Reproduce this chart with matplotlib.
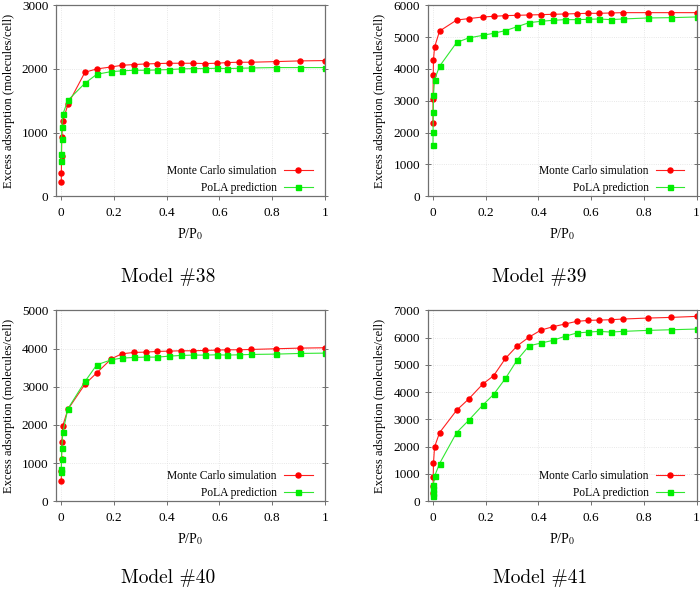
import matplotlib.pyplot as plt

# relative pressure points (same set for every model)
p_rel = [0.0001, 0.0004, 0.001, 0.002, 0.006, 0.025, 0.09, 0.135, 0.19, 0.23,
         0.275, 0.32, 0.365, 0.41, 0.455, 0.5, 0.545, 0.59, 0.63, 0.675,
         0.72, 0.815, 0.905, 1.0]

models = ['Model #38', 'Model #39', 'Model #40', 'Model #41']
y_max = [3000, 6000, 5000, 7000]
y_step = [1000, 1000, 1000, 1000]

mc_38 = [225, 366, 630, 932, 1178, 1441, 1948, 2000, 2031, 2057, 2068, 2078,
         2084, 2089, 2089, 2089, 2084, 2089, 2100, 2105, 2105, 2115, 2126, 2131]
pola_38 = [545, 660, 895, 1089, 1288, 1505, 1775, 1916, 1958, 1969, 1979, 1979,
           1984, 1990, 2000, 2005, 2005, 2010, 2005, 2010, 2015, 2021, 2021, 2021]

mc_39 = [2305, 3063, 3800, 4295, 4684, 5190, 5537, 5581, 5633, 5654, 5675, 5685,
         5696, 5706, 5717, 5727, 5738, 5748, 5748, 5759, 5769, 5769, 5769, 5769]
pola_39 = [1601, 2021, 2643, 3180, 3663, 4084, 4832, 4973, 5057, 5120, 5204, 5329,
           5455, 5497, 5528, 5549, 5549, 5560, 5570, 5549, 5570, 5602, 5612, 5633]

mc_40 = [524, 793, 1107, 1545, 1982, 2404, 3068, 3365, 3732, 3863, 3898, 3907,
         3925, 3933, 3942, 3942, 3951, 3960, 3968, 3968, 3977, 3995, 4012, 4021]
pola_40 = [759, 838, 1107, 1395, 1806, 2421, 3138, 3575, 3706, 3750, 3767, 3776,
           3776, 3802, 3820, 3829, 3829, 3837, 3829, 3837, 3846, 3855, 3872, 3881]

mc_41 = [300, 561, 891, 1404, 1990, 2516, 3341, 3745, 4308, 4602, 5238, 5703,
         6022, 6278, 6401, 6499, 6597, 6634, 6646, 6658, 6683, 6719, 6744, 6781]
pola_41 = [209, 304, 440, 612, 916, 1382, 2521, 2962, 3537, 3917, 4504, 5190,
           5703, 5802, 5900, 6047, 6169, 6206, 6230, 6206, 6230, 6267, 6291, 6316]

mc_all = [mc_38, mc_39, mc_40, mc_41]
pola_all = [pola_38, pola_39, pola_40, pola_41]

plt.rcParams['font.family'] = 'Liberation Serif'
plt.rcParams['mathtext.fontset'] = 'stix'

fig = plt.figure(figsize=(7, 5.89), dpi=100)

# axes rectangles in figure fractions
boxes = [[0.080, 0.667, 0.384, 0.324],
         [0.611, 0.667, 0.384, 0.324],
         [0.080, 0.149, 0.384, 0.324],
         [0.611, 0.149, 0.384, 0.324]]
caption_pos = [(0.240, 0.530), (0.771, 0.530), (0.240, 0.019), (0.771, 0.019)]

for i in range(4):
    ax = fig.add_axes(boxes[i])
    ax.plot(p_rel, mc_all[i], color='#ff2020', lw=0.8, marker='o', ms=3.6,
            mfc='red', mec='red', label='Monte Carlo simulation')
    ax.plot(p_rel, pola_all[i], color='#30e830', lw=0.8, marker='s', ms=3.6,
            mfc='#00ee00', mec='#00ee00', label='PoLA prediction')

    ax.set_xlim(-0.02, 1.0)
    ax.set_ylim(0, y_max[i])
    ax.set_xticks([0, 0.2, 0.4, 0.6, 0.8, 1.0])
    ax.set_xticklabels(['0', '0.2', '0.4', '0.6', '0.8', '1'])
    ax.set_yticks(range(0, y_max[i] + 1, y_step[i]))
    ax.grid(True, color='#e0e0e0', ls=':', lw=0.6)

    for sp in ax.spines.values():
        sp.set_color('#707070')
        sp.set_linewidth(0.9)
    ax.tick_params(axis='y', direction='inout', length=5, width=0.7,
                   color='#707070', right=True, labelsize=9.5, pad=3)
    ax.tick_params(axis='x', direction='out', length=3, width=0.7,
                   color='#707070', labelsize=9.5, pad=5)

    ax.set_xlabel(r'P/P$_0$', fontsize=10, labelpad=5)
    ax.set_ylabel('Excess adsorption (molecules/cell)', fontsize=9, labelpad=5)

    ax.legend(loc='lower right', frameon=False, markerfirst=False,
              fontsize=8.3, handlelength=2.5, handletextpad=0.6,
              borderaxespad=0.3, labelspacing=0.45,
              bbox_to_anchor=(0.985, -0.03))

    fig.text(caption_pos[i][0], caption_pos[i][1], models[i],
             family='cmr10', fontsize=14, ha='center', va='center')

fig.savefig('out.png', dpi=100, facecolor='white')
